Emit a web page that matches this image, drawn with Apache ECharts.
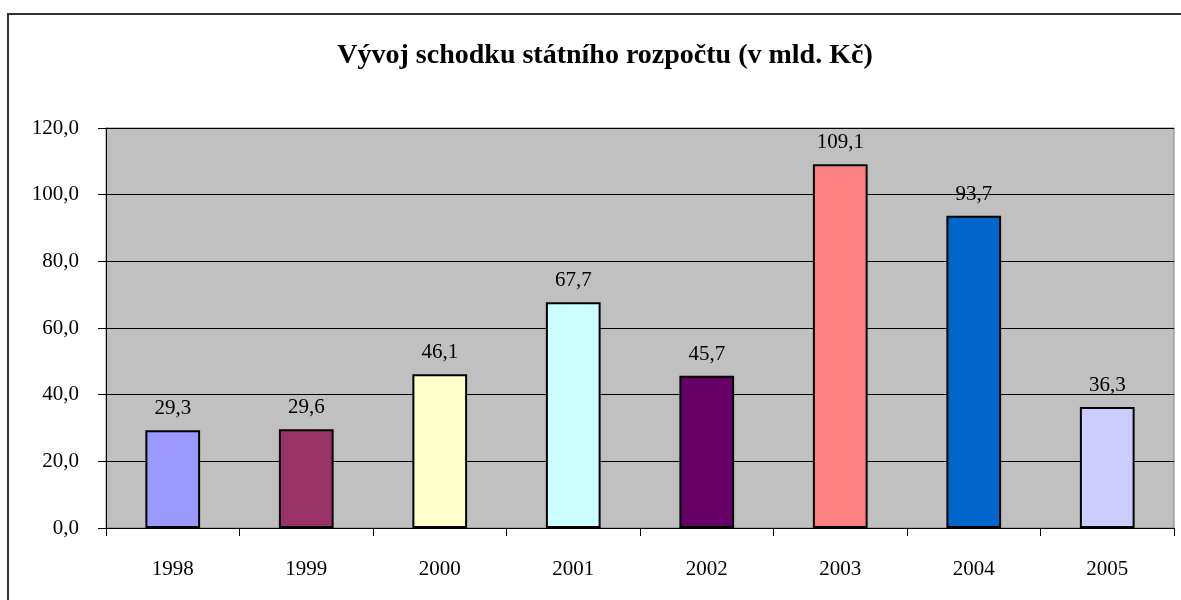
<!DOCTYPE html>
<html>
<head>
<meta charset="utf-8">
<script src="https://cdn.jsdelivr.net/npm/echarts@6/dist/echarts.min.js"></script>
<style>
    html, body { margin: 0; padding: 0; background: #fff; }
</style>
</head>
<body>
<div id="main" style="width: 1181px;height:600px;"></div>
<script type="text/javascript">
    // data
    var years = ['1998', '1999', '2000', '2001', '2002', '2003', '2004', '2005'];
    var deficit = [29.3, 29.6, 46.1, 67.7, 45.7, 109.1, 93.7, 36.3];
    var barColors = ['#9999FF', '#993366', '#FFFFCC', '#CCFFFF', '#660066', '#FF8080', '#0066CC', '#CCCCFF'];

    var font = '"Liberation Serif", "Times New Roman", serif';

    function fmt(v) {
        return v.toFixed(1).replace('.', ',');
    }

    var myChart = echarts.init(document.getElementById('main'));

    var option = {
        animation: false,
        backgroundColor: '#fff',
        title: {
            text: 'Vývoj schodku státního rozpočtu (v mld. Kč)',
            left: 600,
            textAlign: 'center',
            top: 37,
            textStyle: {
                fontFamily: font,
                fontSize: 28,
                fontWeight: 'bold',
                color: '#000'
            }
        },
        graphic: [{
            type: 'rect',
            shape: {x: 8, y: 14, width: 1200, height: 620},
            style: {fill: 'none', stroke: '#333', lineWidth: 2},
            silent: true
        }],
        grid: {
            left: 106,
            right: 7,
            top: 128,
            bottom: 72,
            show: true,
            backgroundColor: '#C0C0C0',
            borderColor: '#808080',
            borderWidth: 1
        },
        xAxis: {
            type: 'category',
            data: years,
            axisLine: {lineStyle: {color: '#000', width: 1}},
            axisTick: {show: true, length: 8, alignWithLabel: false, lineStyle: {color: '#000'}},
            axisLabel: {
                margin: 31,
                fontFamily: font,
                fontSize: 21,
                color: '#000'
            }
        },
        yAxis: {
            type: 'value',
            min: 0,
            max: 120,
            interval: 20,
            axisLine: {show: true, lineStyle: {color: '#000', width: 1}},
            axisTick: {show: true, length: 8, lineStyle: {color: '#000'}},
            splitLine: {show: true, lineStyle: {color: '#000', width: 1}},
            axisLabel: {
                margin: 27,
                fontFamily: font,
                fontSize: 21,
                color: '#000',
                formatter: function (v) { return fmt(v); }
            }
        },
        series: [{
            type: 'bar',
            barWidth: '41%',
            data: deficit.map(function (v, i) {
                return {value: v, itemStyle: {color: barColors[i]}};
            }),
            itemStyle: {borderColor: '#000', borderWidth: 2},
            label: {
                show: true,
                position: 'top',
                distance: 11,
                fontFamily: font,
                fontSize: 21,
                color: '#000',
                formatter: function (p) { return fmt(p.value); }
            }
        }]
    };

    myChart.setOption(option);
</script>
</body>
</html>
